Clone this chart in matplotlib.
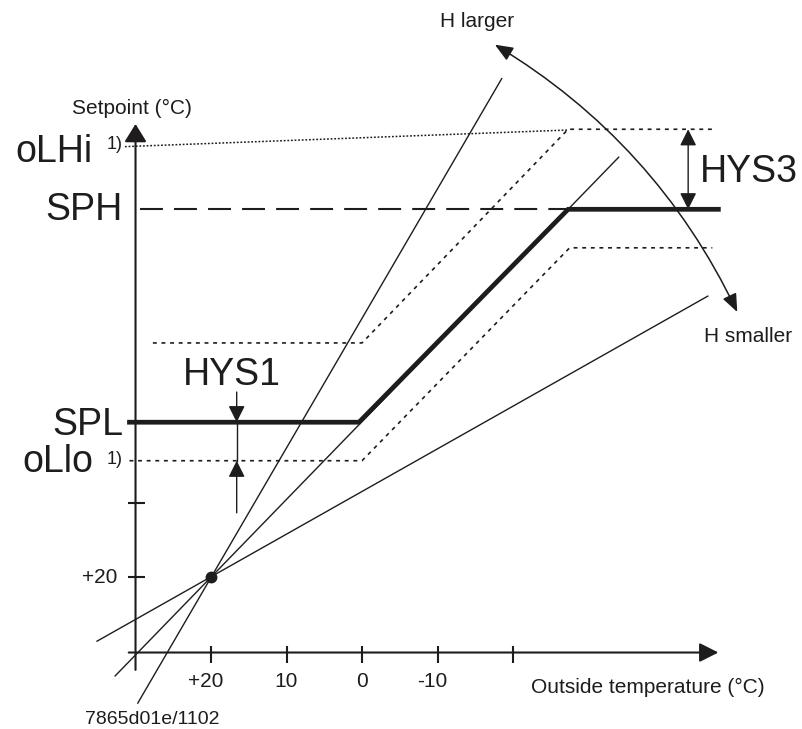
import matplotlib
matplotlib.use("Agg")
import matplotlib.pyplot as plt

plt.rcParams["font.family"] = ["Liberation Sans", "DejaVu Sans"]
plt.rcParams["lines.scale_dashes"] = False

INK = "#1e1c1c"

# --- chart data (outside temperature T, setpoint S, both in degC) ---
pivot = (20, 20)

# heating curve with the two limits SPL / SPH
curve_T = [30.8, 0.4, -27.3, -47.2]
curve_S = [40.5, 40.5, 68.7, 68.7]

# switch-on / switch-off curves (hysteresis)
upper_T = [27.7, 0.0, -27.3, -46.4]
upper_S = [51.0, 51.0, 79.3, 79.3]
lower_T = [30.8, 0.0, -27.5, -46.4]
lower_S = [35.4, 35.4, 63.6, 63.6]

# oLHi limit line and SPH reference
olhi_T = [31.4, -27.3]
olhi_S = [77.0, 79.2]
sph_T = [29.4, -27.3]
sph_S = [68.7, 68.7]

# three heating curves through the pivot (steep, normal, flat)
fan_T = [[29.7, -18.5], [32.7, -34.0], [35.1, -45.8]]
fan_S = [[3.3, 86.0], [6.9, 75.6], [11.5, 57.2]]

x_ticks = [20, 10, 0, -10, -20]
x_tick_labels = ["+20", "10", "0", "-10", ""]
y_ticks = [20, 29.8]
y_tick_labels = ["+20", ""]

hys1_T = 16.6
hys3_T = -43.2

# --- figure ---
fig = plt.figure(figsize=(8.03, 7.29), dpi=100)
ax = fig.add_axes([0, 0, 1, 1])
ax.set_xlim(47.95, -58.41)
ax.set_ylim(-0.13, 96.42)
ax.axis("off")

# axes with arrows
ax.annotate("", xy=(30, 80), xytext=(30, 7.7),
            arrowprops=dict(arrowstyle="-|>,head_length=1.1,head_width=0.68",
                            mutation_scale=10, lw=1.5, color=INK,
                            shrinkA=0, shrinkB=0))
ax.annotate("", xy=(-47.2, 10), xytext=(30.9, 10),
            arrowprops=dict(arrowstyle="-|>,head_length=1.15,head_width=0.58",
                            mutation_scale=10, lw=1.5, color=INK,
                            shrinkA=0, shrinkB=0))

ax.vlines(x_ticks, 8.6, 10.9, color=INK, lw=1.5)
ax.hlines(y_ticks, 31.0, 28.8, color=INK, lw=1.5)
for t, lab in zip(x_ticks, x_tick_labels):
    dx = -4 if lab[:1] in "+-" else 0
    ax.annotate(lab, (t, 5.43), xytext=(dx, 0), textcoords="offset points",
                ha="center", va="baseline", fontsize=15, color=INK)
for s, lab in zip(y_ticks, y_tick_labels):
    ax.text(32.45, s, lab, ha="right", va="center", fontsize=15, color=INK)

# fan of heating curves
for ts, ss in zip(fan_T, fan_S):
    ax.plot(ts, ss, color=INK, lw=1.0)
ax.plot(*pivot, "o", ms=7.5, color=INK, zorder=6)

# reference lines
ax.plot(sph_T, sph_S, color=INK, lw=1.5, dashes=(16.5, 8))
ax.plot(olhi_T, olhi_S, color=INK, lw=1.1, dashes=(1.3, 1.3))
ax.plot(upper_T, upper_S, color=INK, lw=1.2, dashes=(2.8, 3.4))
ax.plot(lower_T, lower_S, color=INK, lw=1.2, dashes=(2.8, 3.4))

# heating curve with limits
ax.plot(curve_T, curve_S, color=INK, lw=3.4, solid_joinstyle="miter", zorder=5)

# HYS1 markers
arrow_small = dict(arrowstyle="-|>,head_length=1.0,head_width=0.5",
                   mutation_scale=10, lw=1.0, color=INK, shrinkA=0, shrinkB=0)
ax.annotate("", xy=(hys1_T, curve_S[0]), xytext=(hys1_T, 44.5),
            arrowprops=arrow_small)
ax.annotate("", xy=(hys1_T, lower_S[0]), xytext=(hys1_T, 28.5),
            arrowprops=arrow_small)
ax.plot([hys1_T, hys1_T], [lower_S[0], curve_S[0]], color=INK, lw=1.0)

# HYS3 double arrow
ax.annotate("", xy=(hys3_T, upper_S[-1]), xytext=(hys3_T, curve_S[-1]),
            arrowprops=dict(arrowstyle="<|-|>,head_length=1.0,head_width=0.5",
                            mutation_scale=10, lw=1.0, color=INK,
                            shrinkA=0, shrinkB=0), zorder=6)

# H larger / H smaller arc
ax.annotate("", xy=(-49.7, 55.1), xytext=(-17.6, 90.5),
            arrowprops=dict(arrowstyle="<|-|>,head_length=1.1,head_width=0.45",
                            connectionstyle="arc3,rad=-0.15",
                            mutation_scale=10, lw=1.1, color=INK,
                            shrinkA=0, shrinkB=0))

# labels
big = dict(fontsize=27, color=INK, va="baseline")
small = dict(fontsize=15, color=INK, va="baseline")
ax.text(35.76, 74.97, "oLHi", ha="right", **big)
ax.text(33.8, 76.7, "1)", ha="left", fontsize=13, color=INK, va="baseline")
ax.text(31.66, 67.28, "SPH", ha="right", **big)
ax.text(31.66, 38.8, "SPL", ha="right", **big)
ax.text(35.6, 33.9, "oLlo", ha="right", **big)
ax.text(33.8, 34.97, "1)", ha="left", fontsize=13, color=INK, va="baseline")
ax.text(17.3, 45.4, "HYS1", ha="center", **big)
ax.text(-44.8, 72.3, "HYS3", ha="left", **big)

ax.text(30.5, 81.3, "Setpoint (°C)", ha="center", **small)
ax.text(-15.2, 92.8, "H larger", ha="center", **small)
ax.text(-51.1, 51.1, "H smaller", ha="center", **small)
ax.text(-37.9, 4.64, "Outside temperature (°C)", ha="center", **small)
ax.text(27.75, 0.53, "7865d01e/1102", ha="center", fontsize=14, color=INK,
        va="baseline")

fig.savefig("out.png", dpi=100)
